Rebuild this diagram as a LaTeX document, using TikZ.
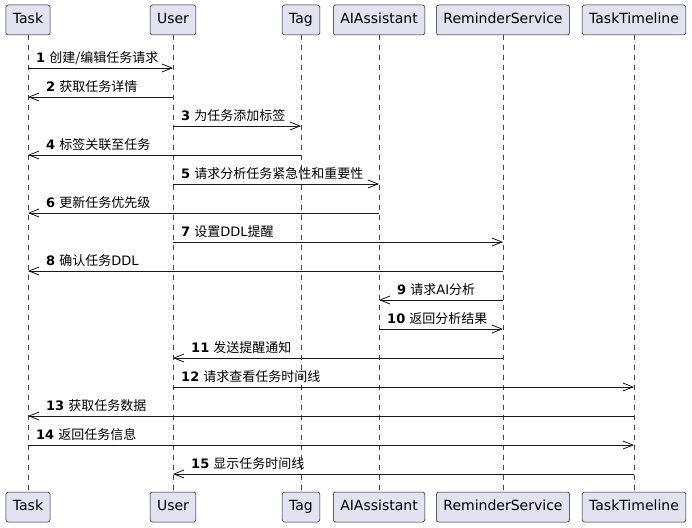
\documentclass[tikz,border=0pt]{standalone}
\usepackage{fontspec}
\setmainfont{DejaVu Sans}
\newfontfamily\cjk{Noto Sans CJK SC}
\usetikzlibrary{arrows.meta}
\definecolor{pfill}{HTML}{E2E2F0}
\definecolor{pline}{HTML}{181818}
\begin{document}
\begin{tikzpicture}[x=1pt,y=-1pt,
  part/.style={draw=pline, fill=pfill, line width=0.5pt, rounded corners=2.5pt, minimum height=30pt, inner xsep=7pt, text height=10.5pt, text depth=3pt, font=\fontsize{14}{16}\selectfont, text=black},
  life/.style={draw=pline!80, line width=0.5pt, dash pattern=on 5pt off 5pt},
  msg/.style={draw=pline, line width=1pt, -{Straight Barb[length=10pt,width=8pt,line width=0.8pt]}},
  lbl/.style={font=\fontsize{13}{15}\selectfont, inner sep=0pt, anchor=base west, text=black}]
\useasboundingbox (0,0) rectangle (692,527);
\fill[white] (0,0) rectangle (692,527);
% participants top
\node[part] (Task) at (28,20) {Task};
\node[part] (User) at (173,20) {User};
\node[part] (Tag) at (301,20) {Tag};
\node[part] (AI) at (379,20) {AIAssistant};
\node[part] (Rem) at (503,20) {ReminderService};
\node[part] (TL) at (634,20) {TaskTimeline};
% participants bottom
\node[part] (Taskb) at (28,507) {Task};
\node[part] (Userb) at (173,507) {User};
\node[part] (Tagb) at (301,507) {Tag};
\node[part] (AIb) at (379,507) {AIAssistant};
\node[part] (Remb) at (503,507) {ReminderService};
\node[part] (TLb) at (634,507) {TaskTimeline};
% lifelines
\draw[life] (Task.south) -- (Taskb.north);
\draw[life] (User.south) -- (Userb.north);
\draw[life] (Tag.south) -- (Tagb.north);
\draw[life] (AI.south) -- (AIb.north);
\draw[life] (Rem.south) -- (Remb.north);
\draw[life] (TL.south) -- (TLb.north);
% messages
\draw[msg] (Task.center |- 0,68) -- (User.center |- 0,68);
\node[lbl] (l1) at ([xshift=8pt]Task.center |- 0,62) {\textbf{1} {\cjk 创建/编辑任务请求}};
\draw[msg] (User.center |- 0,97) -- (Task.center |- 0,97);
\node[lbl] (l2) at ([xshift=18pt]Task.center |- 0,91) {\textbf{2} {\cjk 获取任务详情}};
\draw[msg] (User.center |- 0,126) -- (Tag.center |- 0,126);
\node[lbl] (l3) at ([xshift=8pt]User.center |- 0,120) {\textbf{3} {\cjk 为任务添加标签}};
\draw[msg] (Tag.center |- 0,155) -- (Task.center |- 0,155);
\node[lbl] (l4) at ([xshift=18pt]Task.center |- 0,149) {\textbf{4} {\cjk 标签关联至任务}};
\draw[msg] (User.center |- 0,184) -- (AI.center |- 0,184);
\node[lbl] (l5) at ([xshift=8pt]User.center |- 0,178) {\textbf{5} {\cjk 请求分析任务紧急性和重要性}};
\draw[msg] (AI.center |- 0,213) -- (Task.center |- 0,213);
\node[lbl] (l6) at ([xshift=18pt]Task.center |- 0,207) {\textbf{6} {\cjk 更新任务优先级}};
\draw[msg] (User.center |- 0,242) -- (Rem.center |- 0,242);
\node[lbl] (l7) at ([xshift=8pt]User.center |- 0,236) {\textbf{7} {\cjk 设置}DDL{\cjk 提醒}};
\draw[msg] (Rem.center |- 0,271) -- (Task.center |- 0,271);
\node[lbl] (l8) at ([xshift=18pt]Task.center |- 0,265) {\textbf{8} {\cjk 确认任务}DDL};
\draw[msg] (Rem.center |- 0,300) -- (AI.center |- 0,300);
\node[lbl] (l9) at ([xshift=18pt]AI.center |- 0,294) {\textbf{9} {\cjk 请求}AI{\cjk 分析}};
\draw[msg] (AI.center |- 0,329) -- (Rem.center |- 0,329);
\node[lbl] (l10) at ([xshift=8pt]AI.center |- 0,323) {\textbf{10} {\cjk 返回分析结果}};
\draw[msg] (Rem.center |- 0,358) -- (User.center |- 0,358);
\node[lbl] (l11) at ([xshift=18pt]User.center |- 0,352) {\textbf{11} {\cjk 发送提醒通知}};
\draw[msg] (User.center |- 0,387) -- (TL.center |- 0,387);
\node[lbl] (l12) at ([xshift=8pt]User.center |- 0,381) {\textbf{12} {\cjk 请求查看任务时间线}};
\draw[msg] (TL.center |- 0,416) -- (Task.center |- 0,416);
\node[lbl] (l13) at ([xshift=18pt]Task.center |- 0,410) {\textbf{13} {\cjk 获取任务数据}};
\draw[msg] (Task.center |- 0,445) -- (TL.center |- 0,445);
\node[lbl] (l14) at ([xshift=8pt]Task.center |- 0,439) {\textbf{14} {\cjk 返回任务信息}};
\draw[msg] (TL.center |- 0,474) -- (User.center |- 0,474);
\node[lbl] (l15) at ([xshift=18pt]User.center |- 0,468) {\textbf{15} {\cjk 显示任务时间线}};
\end{tikzpicture}
\end{document}
